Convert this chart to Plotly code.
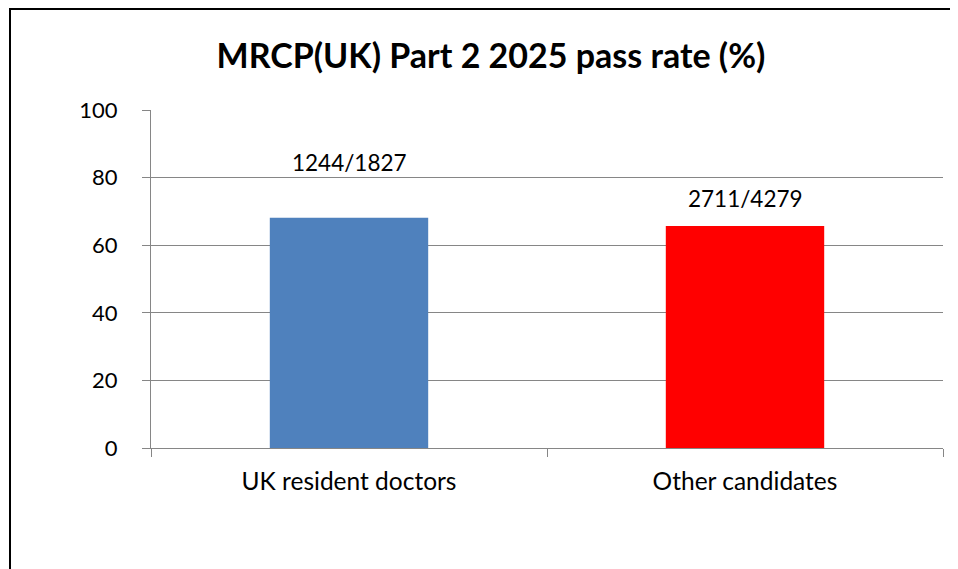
import plotly.graph_objects as go

# Data
categories = ["UK resident doctors", "Other candidates"]
pass_rates = [68.1, 65.7]
count_labels = ["1244/1827", "2711/4279"]
bar_colors = ["#4F81BD", "#FF0000"]
y_ticks = [0, 20, 40, 60, 80, 100]

label_yshift = [55, 27]

FONT = "Lato"
# page body adds an 8px offset; size the figure so the page fits the window
L, T, PW, PH = 143, 102, 792, 337.7
W, H = 950, 561

fig = go.Figure()
fig.add_trace(go.Bar(
    x=categories,
    y=pass_rates,
    marker=dict(color=bar_colors, line=dict(width=0)),
    hoverinfo="skip",
))

for cat, val, lab, ys in zip(categories, pass_rates, count_labels, label_yshift):
    fig.add_annotation(x=cat, y=val, text=lab, showarrow=False,
                       yanchor="middle", yshift=ys,
                       font=dict(family=FONT, size=22.5, color="#000000"))

fig.update_layout(
    width=W, height=H,
    margin=dict(l=L, r=W - L - PW, t=T, b=H - T - PH),
    paper_bgcolor="white", plot_bgcolor="white",
    bargap=0.6,
    showlegend=False,
    title=dict(text="<b>MRCP(UK) Part 2 2025 pass rate (%)</b>",
               x=(491 - 8) / W, xref="container", xanchor="center",
               y=1 - 48 / H, yref="container", yanchor="middle",
               font=dict(family=FONT, size=34, color="#000000")),
    font=dict(family=FONT, size=22, color="#000000"),
)

fig.update_yaxes(
    range=[0, 100], tickvals=y_ticks, ticktext=[str(v) for v in y_ticks],
    showgrid=True, gridcolor="#868686", gridwidth=1,
    showline=True, linecolor="#868686", linewidth=1,
    ticks="outside", ticklen=8, tickcolor="#868686",
    ticklabelstandoff=20,
    zeroline=False, fixedrange=True,
    tickfont=dict(family=FONT, size=22, color="#000000"),
)
fig.update_xaxes(
    showline=True, linecolor="#868686", linewidth=1,
    ticks="outside", ticklen=8, tickcolor="#868686", tickson="boundaries",
    ticklabelstandoff=12,
    showgrid=False, fixedrange=True,
    tickfont=dict(family=FONT, size=24.5, color="#000000"),
)

# outer frame (right and bottom edges fall outside the picture)
fig.add_shape(type="rect", xref="paper", yref="paper",
              x0=(2 - L) / PW, x1=1.2, y0=-0.6, y1=(PH + T - 1) / PH,
              line=dict(color="#000000", width=2), fillcolor="rgba(0,0,0,0)",
              layer="above")

fig.write_html("out.html", config={"displayModeBar": False})
